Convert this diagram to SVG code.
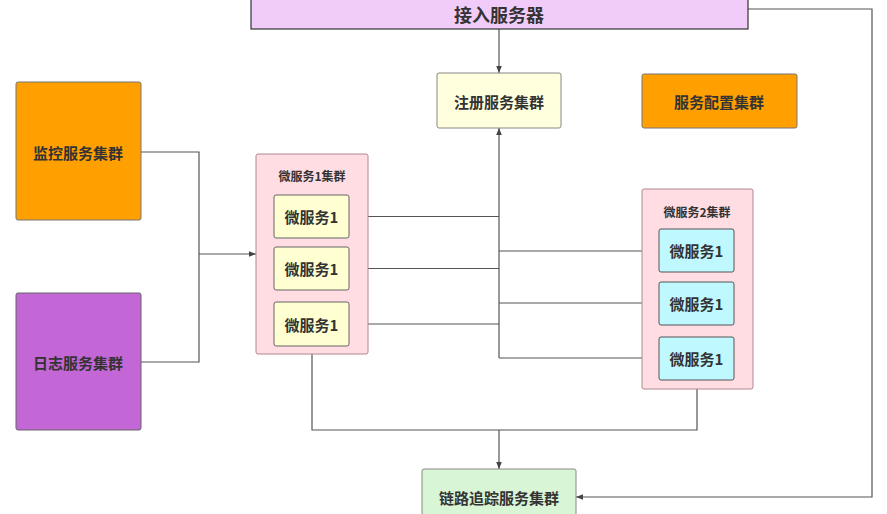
<svg xmlns="http://www.w3.org/2000/svg" width="887" height="514" viewBox="0 0 887 514">
<defs>
<marker id="arr" viewBox="0 0 10 10" refX="10" refY="5" markerWidth="7" markerHeight="7" orient="auto-start-reverse" markerUnits="userSpaceOnUse">
<path d="M0,1 L10,5 L0,9 z" fill="#444"/>
</marker>
<style>
text{font-family:"Noto Sans CJK SC","Noto Sans",sans-serif;fill:#333;text-anchor:middle;dominant-baseline:central;font-weight:bold}
.t{font-size:15px}
.s{font-size:12px}
.ms{font-size:15px;font-weight:600}
.cl{fill:#FFDDE3;stroke:#B08890;stroke-width:1}
.y{fill:#FFFFD2;stroke:#666;stroke-width:1}
.c{fill:#C0F8FF;stroke:#555;stroke-width:1}
.ln{fill:none;stroke:#555;stroke-width:1.2}
</style>
</defs>
<rect width="887" height="514" fill="#fff"/>
<g id="connectors">
<path class="ln" d="M499,29 V73" marker-end="url(#arr)"/>
<path class="ln" d="M499,358 V128" marker-end="url(#arr)"/>
<path class="ln" d="M349,216.5 H499"/>
<path class="ln" d="M349,268.5 H499"/>
<path class="ln" d="M349,324 H499"/>
<path class="ln" d="M499,251 H659"/>
<path class="ln" d="M499,303 H659"/>
<path class="ln" d="M499,358 H659"/>
<path class="ln" d="M141,152 H199 V362 H141"/>
<path class="ln" d="M199,254 H256" marker-end="url(#arr)"/>
<path class="ln" d="M312,354 V430 H697 V389"/>
<path class="ln" d="M499,430 V469" marker-end="url(#arr)"/>
<path class="ln" d="M748,9 H872 V497 H576" marker-end="url(#arr)"/>
</g>
<g id="access">
<rect x="251" y="-2" width="497" height="31" fill="#F2CCF8" stroke="#333" stroke-width="1.2"/>
<text x="499" y="14" style="font-size:18px">接入服务器</text>
</g>
<g id="registry">
<rect x="437" y="73" width="124" height="55" rx="2" fill="#FFFFDD" stroke="#888"/>
<text class="t" x="499" y="101">注册服务集群</text>
</g>
<g id="config">
<rect x="642" y="74" width="155" height="54" rx="2" fill="#FF9F00" stroke="#777"/>
<text class="t" x="719" y="101">服务配置集群</text>
</g>
<g id="monitor">
<rect x="16" y="82" width="125" height="138" rx="2" fill="#FF9F00" stroke="#777"/>
<text class="t" x="78" y="152">监控服务集群</text>
</g>
<g id="log">
<rect x="16" y="293" width="125" height="137" rx="2" fill="#C366D6" stroke="#666"/>
<text class="t" x="78" y="362">日志服务集群</text>
</g>
<g id="cluster1">
<rect class="cl" x="256" y="154" width="112" height="200" rx="2"/>
<text class="s" x="312" y="175">微服务1集群</text>
</g>
<g id="ms1a"><rect class="y" x="274" y="195" width="75" height="43" rx="2"/><text class="ms" x="311.5" y="216.5">微服务1</text></g>
<g id="ms1b"><rect class="y" x="274" y="247" width="75" height="43" rx="2"/><text class="ms" x="311.5" y="268.5">微服务1</text></g>
<g id="ms1c"><rect class="y" x="274" y="302" width="75" height="44" rx="2"/><text class="ms" x="311.5" y="324">微服务1</text></g>
<g id="cluster2">
<rect class="cl" x="642" y="189" width="111" height="200" rx="2"/>
<text class="s" x="697" y="211">微服务2集群</text>
</g>
<g id="ms2a"><rect class="c" x="659" y="229" width="75" height="43" rx="2"/><text class="ms" x="696.5" y="250.5">微服务1</text></g>
<g id="ms2b"><rect class="c" x="659" y="282" width="75" height="43" rx="2"/><text class="ms" x="696.5" y="303.5">微服务1</text></g>
<g id="ms2c"><rect class="c" x="659" y="337" width="75" height="43" rx="2"/><text class="ms" x="696.5" y="358.5">微服务1</text></g>
<g id="trace">
<rect x="422" y="469" width="154" height="60" rx="2" fill="#D8F5D5" stroke="#888"/>
<text class="t" x="499" y="497">链路追踪服务集群</text>
</g>
</svg>
